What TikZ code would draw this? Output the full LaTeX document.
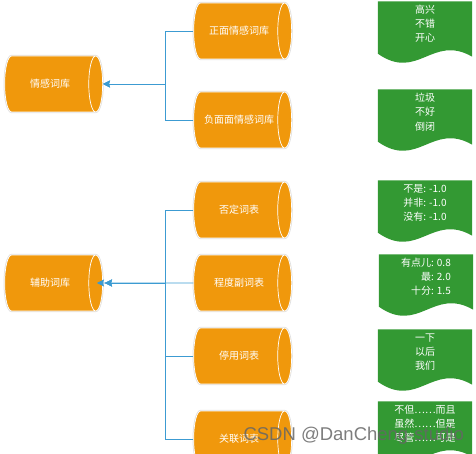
\documentclass[tikz,border=0pt]{standalone}
\usepackage{fontspec}
\setmainfont{Noto Sans CJK SC}
\newfontfamily\wmfont{Liberation Sans}
\usetikzlibrary{arrows.meta,shapes,backgrounds}
\definecolor{dborange}{RGB}{240,152,12}
\definecolor{docgreen}{RGB}{51,153,51}
\definecolor{linkblue}{RGB}{60,155,210}
\tikzstyle{db} = [cylinder, draw=white, line width=0.7pt, fill=dborange, text=white,
    preaction={draw=black!12, line width=2.2pt}, minimum width=56pt,
    minimum height=98pt, aspect=1.5, inner sep=0pt, font=\fontsize{10}{12}\selectfont]
\tikzstyle{doc} = [rectangle, minimum width=94pt, minimum height=45pt, inner sep=0pt,
    text=white, align=center, font=\fontsize{10}{14.2}\selectfont]
\tikzstyle{link} = [->, draw=linkblue, line width=0.8pt]

\begin{document}
\begin{tikzpicture}[x=1pt,y=-1pt,>={Stealth[length=7pt,width=7pt,inset=1pt]}]
  \useasboundingbox (0,0) rectangle (476,454);

  % lexicons
  \node[db] (emo)  at (50,84)   {情感词库};
  \node[db] (pos)  at (239,31)  {正面情感词库};
  \node[db] (neg)  at (239,120) {负面面情感词库};

  \node[db] (aux)  at (50,283)  {辅助词库};
  \node[db] (negw) at (239,210) {否定词表};
  \node[db] (deg)  at (239,283) {程度副词表};
  \node[db] (stop) at (239,356) {停用词表};
  \node[db] (conj) at (239,439) {关联词表};

  % examples
  \node[doc] (g1) at (425,24)  {高兴\\不错\\开心};
  \node[doc] (g2) at (425,112) {垃圾\\不好\\倒闭};
  \node[doc] (g3) at (425,203) {不是: -1.0\\并非: -1.0\\没有: -1.0};
  \node[doc,align=right] (g4) at (426,277) {有点儿: 0.8\\最: 2.0\\十分: 1.5};
  \node[doc] (g5) at (425,352) {一下\\以后\\我们};
  \node[doc] (g6) at (425,424) {不但……而且\\虽然……但是\\尽管……可是};

  \begin{scope}[on background layer]
    \foreach \d in {g1,g2,g3,g4,g5,g6}
      \fill[docgreen] (\d.north west) -- (\d.north east) -- ([shift={(0,10)}]\d.south east)
        .. controls ([shift={(-40,-13)}]\d.south east) and ([shift={(40,35)}]\d.south west)
        .. ([shift={(0,7)}]\d.south west) -- cycle;
  \end{scope}

  \draw[link] (pos.west) -- ++(-28,0) |- (emo.east);
  \draw[link] (neg.west) -- ++(-28,0) |- (emo.east);

  \draw[link] (negw.west) -- ++(-28,0) |- ([xshift=2pt]aux.east);
  \draw[link] (stop.west) -- ++(-28,0) |- ([xshift=2pt]aux.east);
  \draw[link] (conj.west) -- ++(-28,0) |- ([xshift=2pt]aux.east);
  \draw[link] (deg.west) -- ([xshift=-6pt]aux.east);

  \node[anchor=base west, font=\wmfont\fontsize{18.5}{20}\selectfont, text=black!60,
        opacity=0.85] (wm) at (240,440) {CSDN @DanCheng-studio};
\end{tikzpicture}
\end{document}
